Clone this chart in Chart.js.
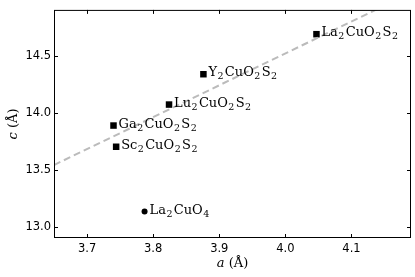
<!DOCTYPE html>
<html>
<head>
<meta charset="utf-8">
<script src="https://cdn.jsdelivr.net/npm/chart.js@4/dist/chart.umd.min.js"></script>
<style>
body { margin: 0; background: #fff; }
#wrap { width: 415px; height: 277px; }
</style>
</head>
<body>
<div id="wrap"><canvas id="grafico" width="415" height="277"></canvas></div>
<script>
// composti A2CuO2S2 (quadrati) e La2CuO4 (cerchio)
var nomi = ['La_2CuO_2S_2', 'Y_2CuO_2S_2', 'Lu_2CuO_2S_2', 'Ga_2CuO_2S_2', 'Sc_2CuO_2S_2'];
var aSolfuri = [4.047, 3.876, 3.824, 3.740, 3.744];
var cSolfuri = [14.687, 14.336, 14.070, 13.886, 13.700];

var nomiOssido = ['La_2CuO_4'];
var aOssido = [3.787];
var cOssido = [13.132];

// retta tratteggiata
var aFit = [3.65, 4.19];
var cFit = [13.54, 15.05];

var xTicks = [3.7, 3.8, 3.9, 4.0, 4.1];
var yTicks = [13.0, 13.5, 14.0, 14.5];

var serif = '"DejaVu Serif", serif';

function toPoints(xs, ys) {
    var out = [];
    for (var i = 0; i < xs.length; i++) {
        out.push({x: xs[i], y: ys[i]});
    }
    return out;
}

// scrive formule tipo La_2CuO_2S_2 con i pedici
function drawFormula(ctx, text, x, y) {
    var cx = x;
    for (var i = 0; i < text.length; i++) {
        var ch = text[i];
        if (ch === '_') {
            var num = '';
            i++;
            while (i < text.length && /\d/.test(text[i])) { num += text[i]; i++; }
            i--;
            ctx.font = '9.5px ' + serif;
            ctx.fillText(num, cx + 0.5, y + 3);
            cx += ctx.measureText(num).width + 1.8;
        } else {
            ctx.font = '13px ' + serif;
            ctx.fillText(ch, cx, y);
            cx += ctx.measureText(ch).width;
        }
    }
}

var etichette = {
    id: 'etichette',
    afterDatasetsDraw: function (chart) {
        var ctx = chart.ctx;
        ctx.save();
        ctx.fillStyle = '#000';
        ctx.textBaseline = 'alphabetic';
        ctx.textAlign = 'left';
        chart.data.datasets.forEach(function (ds, k) {
            if (!ds.nomi) return;
            var meta = chart.getDatasetMeta(k);
            meta.data.forEach(function (pt, i) {
                drawFormula(ctx, ds.nomi[i], pt.x + 5, pt.y + 2);
            });
        });
        ctx.restore();
    },
    afterDraw: function (chart) {
        var ctx = chart.ctx;
        var area = chart.chartArea;
        var xs = chart.scales.x;
        var ys = chart.scales.y;
        ctx.save();
        // cornice
        ctx.strokeStyle = '#000';
        ctx.lineWidth = 1;
        ctx.strokeRect(area.left + 0.5, area.top + 0.5, area.right - area.left - 1, area.bottom - area.top - 1);
        // tacche verso l'interno su tutti i lati
        ctx.beginPath();
        xTicks.forEach(function (v) {
            var px = Math.round(xs.getPixelForValue(v)) + 0.5;
            ctx.moveTo(px, area.bottom);
            ctx.lineTo(px, area.bottom - 4);
            ctx.moveTo(px, area.top);
            ctx.lineTo(px, area.top + 4);
        });
        yTicks.forEach(function (v) {
            var py = Math.round(ys.getPixelForValue(v)) + 0.5;
            ctx.moveTo(area.left, py);
            ctx.lineTo(area.left + 4, py);
            ctx.moveTo(area.right, py);
            ctx.lineTo(area.right - 4, py);
        });
        ctx.stroke();

        // titoli assi
        ctx.fillStyle = '#000';
        ctx.textBaseline = 'alphabetic';
        ctx.textAlign = 'left';
        var cxm = (area.left + area.right) / 2;
        ctx.font = 'italic 13px ' + serif;
        var w1 = ctx.measureText('a').width;
        ctx.font = '13px ' + serif;
        var w2 = ctx.measureText(' (Å)').width;
        var x0 = cxm - (w1 + w2) / 2;
        ctx.font = 'italic 13px ' + serif;
        ctx.fillText('a', x0, 267);
        ctx.font = '13px ' + serif;
        ctx.fillText(' (Å)', x0 + w1, 267);

        ctx.translate(17, (area.top + area.bottom) / 2);
        ctx.rotate(-Math.PI / 2);
        ctx.font = 'italic 13px ' + serif;
        w1 = ctx.measureText('c').width;
        ctx.font = '13px ' + serif;
        w2 = ctx.measureText(' (Å)').width;
        x0 = -(w1 + w2) / 2;
        ctx.font = 'italic 13px ' + serif;
        ctx.fillText('c', x0, 0);
        ctx.font = '13px ' + serif;
        ctx.fillText(' (Å)', x0 + w1, 0);
        ctx.restore();
    }
};

var chart = new Chart(document.getElementById('grafico'), {
    type: 'scatter',
    data: {
        datasets: [{
            type: 'line',
            data: toPoints(aFit, cFit),
            borderColor: '#bbbbbb',
            borderWidth: 2,
            borderDash: [7, 4],
            pointRadius: 0,
            fill: false
        }, {
            data: toPoints(aSolfuri, cSolfuri),
            nomi: nomi,
            pointStyle: 'rect',
            pointRadius: 4.6,
            backgroundColor: '#000',
            borderColor: '#000',
            borderWidth: 0
        }, {
            data: toPoints(aOssido, cOssido),
            nomi: nomiOssido,
            pointStyle: 'circle',
            pointRadius: 3,
            backgroundColor: '#000',
            borderColor: '#000',
            borderWidth: 0
        }]
    },
    options: {
        responsive: false,
        animation: false,
        devicePixelRatio: 1,
        layout: { padding: { left: 0, right: 4, top: 3, bottom: 0 }, autoPadding: false },
        plugins: { legend: { display: false }, tooltip: { enabled: false } },
        scales: {
            x: {
                type: 'linear',
                min: 3.65,
                max: 4.19,
                grid: { display: false, drawTicks: false },
                border: { display: false },
                afterBuildTicks: function (scale) {
                    scale.ticks = xTicks.map(function (v) { return {value: v}; });
                },
                afterFit: function (scale) { scale.height = 39; },
                ticks: {
                    padding: 4,
                    color: '#000',
                    font: { family: '"DejaVu Sans"', size: 11.5 },
                    callback: function (v) { return v.toFixed(1); }
                }
            },
            y: {
                type: 'linear',
                min: 12.9,
                max: 14.9,
                grid: { display: false, drawTicks: false },
                border: { display: false },
                afterBuildTicks: function (scale) {
                    scale.ticks = yTicks.map(function (v) { return {value: v}; });
                },
                afterFit: function (scale) { scale.width = 54; },
                ticks: {
                    padding: 3,
                    color: '#000',
                    font: { family: '"DejaVu Sans"', size: 11.5 },
                    callback: function (v) { return v.toFixed(1); }
                }
            }
        }
    },
    plugins: [etichette]
});
</script>
</body>
</html>
